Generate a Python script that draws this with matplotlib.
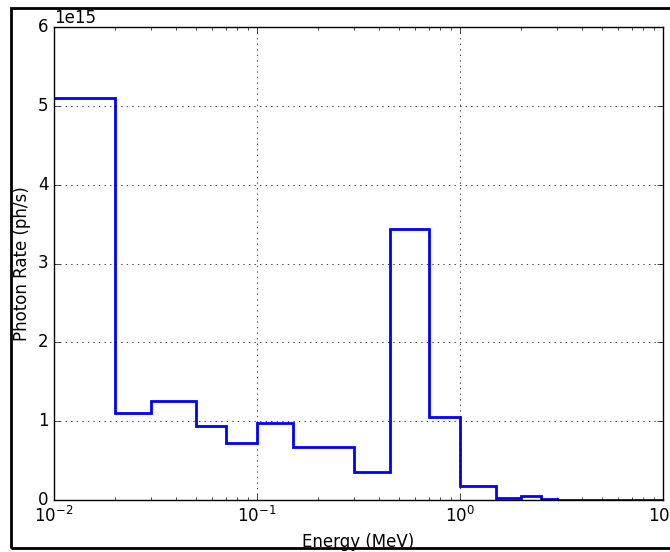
import matplotlib
matplotlib.use("Agg")
import matplotlib.pyplot as plt
from matplotlib.patches import Rectangle
import numpy as np

plt.style.use("classic")

# Bin edges (MeV) and photon rates (ph/s)
edges = [0.01, 0.02, 0.03, 0.05, 0.07, 0.1, 0.15, 0.3, 0.45, 0.7, 1.0, 1.5, 2.0, 2.5, 3.0, 10.0]
rates = [5.10e15, 1.10e15, 1.25e15, 0.94e15, 0.72e15, 0.98e15, 0.67e15, 0.355e15,
         3.44e15, 1.05e15, 0.18e15, 0.03e15, 0.05e15, 0.015e15, 0.005e15]

fig = plt.figure(figsize=(6.7, 5.52), dpi=100, facecolor="white")
ax = fig.add_axes([54/670, 52/552, (663-54)/670, (500-27)/552])
ax.stairs(rates, edges, baseline=None, color="blue", linewidth=2)
ax.set_xscale("log")
ax.set_xlim(0.01, 10)
ax.set_ylim(0, 6e15)
ax.grid(True)
ax.set_xlabel("Energy (MeV)")
ax.set_ylabel("Photon Rate (ph/s)")

fig.patches.append(Rectangle((11/670, 4/552), 1.0, 540/552, transform=fig.transFigure,
                             fill=False, edgecolor="black", linewidth=2, zorder=10))

fig.savefig("out.png", dpi=100, facecolor="white")
